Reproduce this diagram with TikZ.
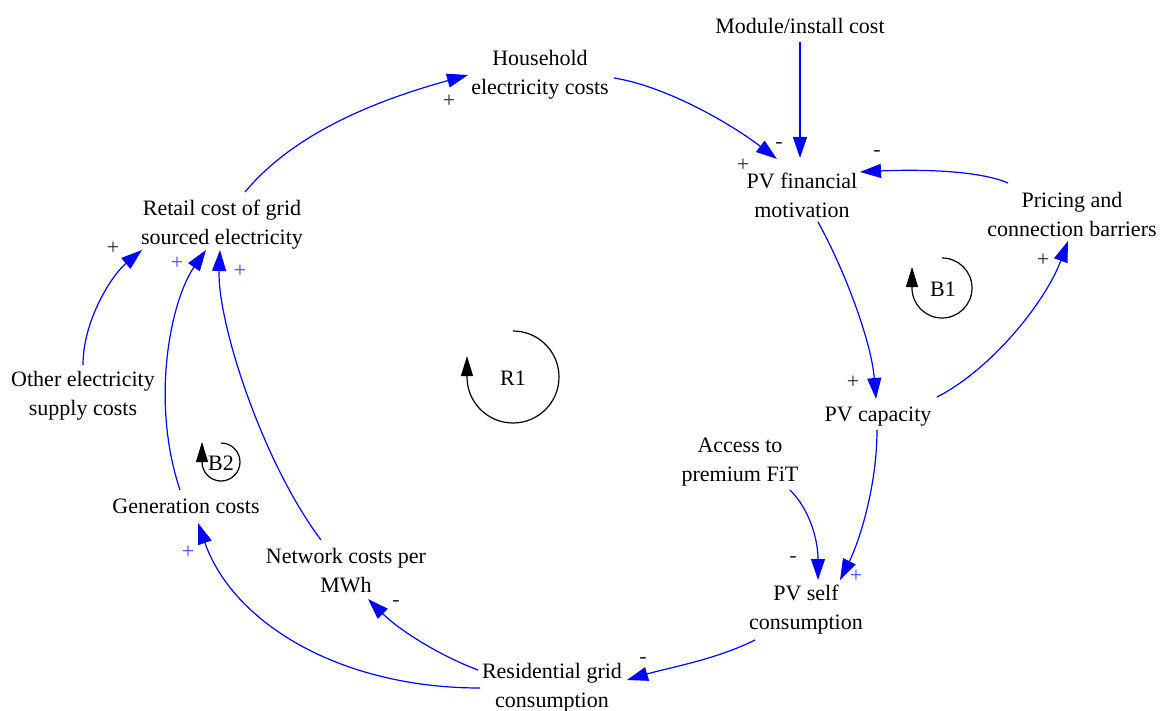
\documentclass[tikz,border=0pt]{standalone}
\usepackage{fontspec}
\setmainfont{Liberation Serif}
\usetikzlibrary{arrows.meta,calc}
\definecolor{linkblue}{RGB}{0,0,255}
\definecolor{signblue}{RGB}{70,70,255}
\definecolor{signgray}{RGB}{40,40,40}
\tikzset{
  var/.style={align=center,inner sep=0pt,font=\fontsize{22}{29}\selectfont},
  link/.style={draw=linkblue,line width=1.2pt,-{Triangle[length=21pt,width=14pt]}},
  loopmark/.style={draw=black,line width=1.2pt,-{Triangle[length=20pt,width=12pt]}},
  looplabel/.style={inner sep=0pt,font=\fontsize{22}{29}\selectfont},
  sgn/.style={inner sep=0pt,font=\fontsize{22}{24}\selectfont,text=signgray},
  sgnb/.style={sgn,text=signblue},
}
\begin{document}
\begin{tikzpicture}[x=1pt,y=-1pt]
\useasboundingbox (0,0) rectangle (1164,711);

% variables
\node[var] (house)   at (540,75)  {Household\\electricity costs};
\node[var] (module)  at (800,26)  {Module/install cost};
\node[var] (pvfin)   at (802,195) {PV financial\\motivation};
\node[var] (pricing) at (1072,214) {Pricing and\\connection barriers};
\node[var] (retail)  at (222,225) {Retail cost of grid\\sourced electricity};
\node[var] (other)   at (83,396)  {Other electricity\\supply costs};
\node[var] (gen)     at (186,506) {Generation costs};
\node[var] (network) at (346,571) {Network costs per\\MWh};
\node[var] (resid)   at (552,688) {Residential grid\\consumption};
\node[var] (pvself)  at (806,610) {PV self\\consumption};
\node[var] (pvcap)   at (878,417) {PV capacity};
\node[var] (access)  at (740,462) {Access to\\premium FiT};

% causal links
\draw[link] ($(retail)+(23,-33)$) .. controls +(50,-60) and +(-90,25) .. ($(house)+(-72,0)$);
\draw[link] ($(house)+(74,3)$) .. controls +(50,8) and +(-50,-38) .. ($(pvfin)+(-25,-36)$);
\draw[link] ($(module)+(0,16)$) -- ($(pvfin)+(-2,-37)$);
\draw[link] ($(pricing)+(-64,-31)$) .. controls +(-35,-15) and +(40,-2) .. ($(pvfin)+(58,-23)$);
\draw[link] ($(pvfin)+(16,27)$) .. controls +(25,45) and +(-5,-60) .. ($(pvcap)+(-2,-18)$);
\draw[link] ($(pvcap)+(59,-20)$) .. controls +(55,-28) and +(-22,60) .. ($(pricing)+(-4,27)$);
\draw[link] ($(pvcap)+(-1,13)$) .. controls +(0,55) and +(20,-40) .. ($(pvself)+(34,-30)$);
\draw[link] ($(access)+(50,28)$) .. controls +(20,20) and +(0,-40) .. ($(pvself)+(12,-30)$);
\draw[link] ($(pvself)+(-51,30)$) .. controls +(-40,20) and +(40,-12) .. ($(resid)+(75,-8)$);
\draw[link] ($(resid)+(-74,-18)$) .. controls +(-40,-15) and +(30,30) .. ($(network)+(22,28)$);
\draw[link] ($(resid)+(-72,0)$) .. controls +(-140,0) and +(35,100) .. ($(gen)+(12,17)$);
\draw[link] ($(network)+(-25,-31)$) .. controls +(-60,-80) and +(-3,70) .. ($(retail)+(-2,25)$);
\draw[link] ($(gen)+(-6,-16)$) .. controls +(-30,-90) and +(-35,50) .. ($(retail)+(-16,25)$);
\draw[link] ($(other)+(0,-31)$) .. controls +(0,-45) and +(-30,25) .. ($(retail)+(-80,25)$);

% polarities
\node[sgn]  (s1)  at (449,101) {+};
\node[sgn]  (s2)  at (779,145) {-};
\node[sgn]  (s3)  at (743,165) {+};
\node[sgn]  (s4)  at (877,153) {-};
\node[sgn]  (s5)  at (853,382) {+};
\node[sgn]  (s6)  at (1043,260) {+};
\node[sgn]  (s7)  at (793,559) {-};
\node[sgnb] (s8)  at (856,576) {+};
\node[sgn]  (s9)  at (643,660) {-};
\node[sgn]  (s10) at (396,603) {-};
\node[sgnb] (s11) at (188,552) {+};
\node[sgn]  (s12) at (113,248) {+};
\node[sgnb] (s13) at (177,263) {+};
\node[sgnb] (s14) at (240,271) {+};

% loop markers
\node[looplabel] (r1) at (513,378) {R1};
\draw[loopmark] ($(r1)+(0,-47)$) arc[start angle=-90,end angle=180,radius=46] -- ++(0,-21);
\node[looplabel] (b1) at (943,289) {B1};
\draw[loopmark] ($(b1)+(-1,-31)$) arc[start angle=-90,end angle=180,radius=30] -- ++(0,-21);
\node[looplabel] (b2) at (221,463) {B2};
\draw[loopmark] ($(b2)+(0,-20)$) arc[start angle=-90,end angle=180,radius=19] -- ++(0,-20);
\end{tikzpicture}
\end{document}
